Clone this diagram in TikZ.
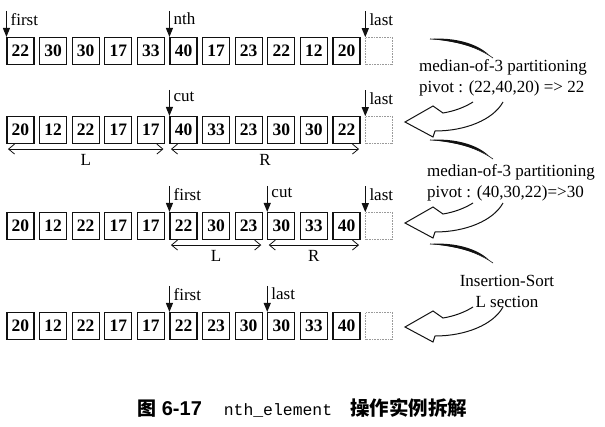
\documentclass[tikz,border=0pt]{standalone}
\usepackage{fontspec}
\setmainfont{Liberation Serif}
\setsansfont{Liberation Sans}
\setmonofont{Liberation Mono}
\newfontfamily\cjk{Noto Sans CJK SC}
\usepackage{tikz}
\usetikzlibrary{arrows.meta,calc}
\definecolor{ink}{HTML}{111111}
\definecolor{dots}{HTML}{9A9A9A}
\tikzset{
  cell/.style={draw=ink,line width=1.1pt,minimum size=27pt,inner sep=0pt,font=\fontsize{17.5}{17}\selectfont\bfseries},
  endcell/.style={draw=dots,densely dotted,line width=.6pt,minimum size=27pt,inner sep=0pt},
  ptr/.style={-{Triangle[length=9pt,width=7pt]},draw=ink,line width=1.1pt},
  ptrlabel/.style={font=\fontsize{17}{17}\selectfont,anchor=north west,inner sep=1pt,xshift=3pt,yshift=-1pt},
  span/.style={{Straight Barb[length=6pt,width=10pt]}-{Straight Barb[length=6pt,width=10pt]},draw=ink,line width=.8pt},
  spanlabel/.style={font=\fontsize{17}{17}\selectfont,inner sep=1pt},
  note/.style={font=\fontsize{17}{21}\selectfont,inner sep=0pt},
  bigarrow/.style={draw=ink,line width=1pt,line join=miter}
}

\begin{document}
\begin{tikzpicture}[x=1pt,y=-1pt]
  \useasboundingbox (0,0) rectangle (605,426);
  % the four states of the array
  \foreach \r/\y/\vals in {1/51/{22,30,30,17,33,40,17,23,22,12,20},
                           2/130/{20,12,22,17,17,40,33,23,30,30,22},
                           3/226/{20,12,22,17,17,22,30,23,30,33,40},
                           4/326/{20,12,22,17,17,22,23,30,30,33,40}}{
    \foreach \v [count=\c] in \vals
      \node[cell] (r\r-\c) at ({20.5+32.6*(\c-1)},\y) {\v};
    \node[endcell] (r\r-12) at ({20.5+32.6*11},\y) {};
  }
  % iterators
  \foreach \r/\c/\t in {1/1/first,1/6/nth,1/12/last,2/6/cut,2/12/last,
                        3/6/first,3/9/cut,3/12/last,4/6/first,4/9/last}{
    \coordinate (p\r-\c) at ($(r\r-\c.north west)+(0,-26)$);
    \draw[ptr] (p\r-\c) -- (r\r-\c.north west);
    \node[ptrlabel] (t\r-\c) at (p\r-\c) {\t};
  }
  % L / R ranges
  \foreach \r/\a/\b/\t in {2/1/5/L,2/6/11/R,3/6/8/L,3/9/11/R}{
    \coordinate (s\r-\a) at ($(r\r-\a.south west)+(1.5,5)$);
    \coordinate (e\r-\b) at ($(r\r-\b.south east)+(-1.5,5)$);
    \draw[span] (s\r-\a) -- (e\r-\b) node[spanlabel,midway,below=4pt] (l\r-\a) {\t};
  }
  % hollow curved arrows
  \foreach \ty in {122,223,327}{
    \begin{scope}[shift={(405,\ty)}]
      \draw[bigarrow] (68,-20) .. controls (60,-15) and (50,-11) .. (38,-9)
        -- (28,-16) -- (0,0) -- (28,15) -- (30,9)
        .. controls (60,9) and (88,-2) .. (98,-20);
      \fill[ink] (25,-83) .. controls (48,-85) and (72,-79) .. (84,-67)
        .. controls (70,-76) and (48,-81) .. (25,-83);
      \draw[ink,line width=.6pt] (25,-83) .. controls (52,-82) and (74,-74) .. (88,-64);
    \end{scope}
  }
  \node[note,anchor=west,align=left] (note1) at (419,77.5)
    {median-of-3 partitioning\\pivot : (22,40,20) => 22};
  \node[note,anchor=west,align=left] (note2) at (427,182.5)
    {median-of-3 partitioning\\pivot : (40,30,22)=>30};
  \node[note,align=center] (note3) at (507,291)
    {Insertion-Sort\\L section};
  % caption
  \node[inner sep=0pt] (caption) at (302.5,408)
    {{\cjk\fontsize{19}{19}\selectfont\bfseries 图}\hspace{5pt}{\sffamily\bfseries\fontsize{20}{20}\selectfont 6-17}\hspace{22pt}{\ttfamily\fontsize{16.4}{17}\selectfont nth\_element}\hspace{18pt}{\cjk\fontsize{19.5}{20}\selectfont\bfseries 操作实例拆解}};
\end{tikzpicture}
\end{document}
